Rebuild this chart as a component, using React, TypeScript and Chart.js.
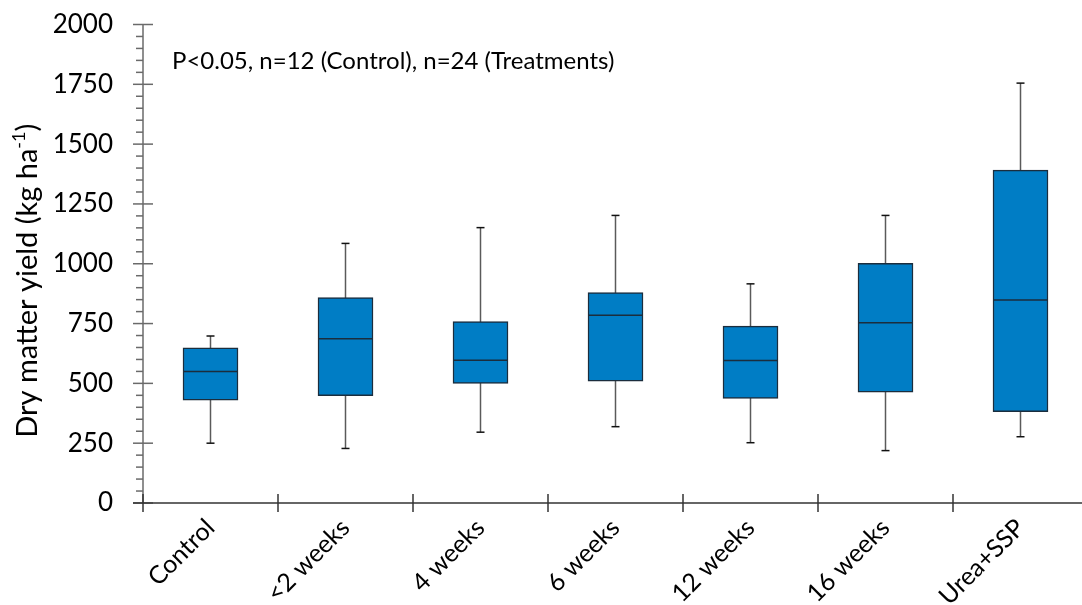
import React, { useEffect, useRef } from 'react';
import { Chart, registerables } from 'chart.js';

Chart.register(...registerables);

// ---- data ----
const categories = ['Control', '<2 weeks', '4 weeks', '6 weeks', '12 weeks', '16 weeks', 'Urea+SSP'];
const whiskerLow = [250, 228, 296, 319, 252, 219, 277];
const quartile1 = [430, 449, 500, 509, 437, 463, 382];
const medians = [550, 686, 597, 785, 596, 753, 849];
const quartile3 = [649, 859, 758, 880, 739, 1002, 1391];
const whiskerHigh = [698, 1085, 1151, 1202, 916, 1202, 1755];
const yMin = 0;
const yMax = 2000;
const yStep = 250;
const yMinorStep = 50;
const noteText = 'P<0.05, n=12 (Control), n=24 (Treatments)';
const yTitleMain = 'Dry matter yield (kg ha';
const yTitleSup = '-1';
const yTitleEnd = ')';

const FONT = 'Lato, "Open Sans", sans-serif';
const BOX_FILL = '#007DC5';
const BOX_EDGE = '#1b2d3d';
const WHISKER = '#5a5a5a';
const AXIS = '#333333';

const boxPlugin = {
  id: 'boxExtras',
  beforeDatasetsDraw(chart: any) {
    const { ctx, scales } = chart;
    const x = scales.x;
    const y = scales.y;
    ctx.save();
    ctx.strokeStyle = WHISKER;
    ctx.lineWidth = 1.5;
    categories.forEach((_, i) => {
      const px = x.getPixelForValue(i);
      ctx.beginPath();
      ctx.moveTo(px, y.getPixelForValue(whiskerHigh[i]));
      ctx.lineTo(px, y.getPixelForValue(whiskerLow[i]));
      ctx.stroke();
    });
    ctx.strokeStyle = '#111';
    categories.forEach((_, i) => {
      const px = x.getPixelForValue(i);
      [whiskerHigh[i], whiskerLow[i]].forEach((v) => {
        const py = y.getPixelForValue(v);
        ctx.beginPath();
        ctx.moveTo(px - 4, py);
        ctx.lineTo(px + 4, py);
        ctx.stroke();
      });
    });
    ctx.restore();
  },
  afterDatasetsDraw(chart: any) {
    const { ctx, scales } = chart;
    const y = scales.y;
    const meta = chart.getDatasetMeta(0);
    ctx.save();
    ctx.strokeStyle = BOX_EDGE;
    ctx.lineWidth = 1.5;
    meta.data.forEach((bar: any, i: number) => {
      const half = bar.width / 2;
      const py = y.getPixelForValue(medians[i]);
      ctx.beginPath();
      ctx.moveTo(bar.x - half, py);
      ctx.lineTo(bar.x + half, py);
      ctx.stroke();
    });
    ctx.restore();
  },
};

const axesPlugin = {
  id: 'axesDecor',
  afterDraw(chart: any) {
    const { ctx, scales, chartArea } = chart;
    const x = scales.x;
    const y = scales.y;
    const left = chartArea.left;
    const bottom = y.getPixelForValue(0);
    const top = y.getPixelForValue(yMax);
    ctx.save();
    // y axis line
    ctx.strokeStyle = '#6a6a6a';
    ctx.lineWidth = 1.5;
    ctx.beginPath();
    ctx.moveTo(left, top);
    ctx.lineTo(left, bottom);
    ctx.stroke();
    // y ticks
    for (let v = yMin; v <= yMax; v += yMinorStep) {
      const py = y.getPixelForValue(v);
      ctx.beginPath();
      if (v % yStep === 0) {
        ctx.moveTo(left - 10, py);
        ctx.lineTo(left + 10, py);
      } else {
        ctx.moveTo(left - 7, py);
        ctx.lineTo(left, py);
      }
      ctx.stroke();
    }
    // x axis line
    ctx.strokeStyle = AXIS;
    ctx.beginPath();
    ctx.moveTo(left - 10, bottom);
    ctx.lineTo(chart.width, bottom);
    ctx.stroke();
    // x ticks at category boundaries
    for (let i = 0; i <= categories.length; i++) {
      const px = x.getPixelForValue(i - 0.5);
      ctx.beginPath();
      ctx.moveTo(px, bottom - 9);
      ctx.lineTo(px, bottom + 9);
      ctx.stroke();
    }
    // note
    ctx.fillStyle = '#000';
    ctx.font = `24px ${FONT}`;
    ctx.textAlign = 'left';
    ctx.textBaseline = 'alphabetic';
    ctx.fillText(noteText, left + 29, top + 44);
    // y title with superscript
    const mainFont = `29px ${FONT}`;
    const supFont = `18px ${FONT}`;
    ctx.font = mainFont;
    const w1 = ctx.measureText(yTitleMain).width;
    const w3 = ctx.measureText(yTitleEnd).width;
    ctx.font = supFont;
    const w2 = ctx.measureText(yTitleSup).width;
    const total = w1 + w2 + w3;
    ctx.translate(37, (top + bottom) / 2 + 17);
    ctx.rotate(-Math.PI / 2);
    let cx = -total / 2;
    ctx.font = mainFont;
    ctx.fillText(yTitleMain, cx, 0);
    cx += w1;
    ctx.font = supFont;
    ctx.fillText(yTitleSup, cx, -12);
    cx += w2;
    ctx.font = mainFont;
    ctx.fillText(yTitleEnd, cx, 0);
    ctx.restore();
  },
};

export default function App() {
  const ref = useRef<HTMLCanvasElement | null>(null);
  useEffect(() => {
    if (!ref.current) return;
    const chart = new Chart(ref.current, {
      type: 'bar',
      data: {
        labels: categories,
        datasets: [
          {
            data: categories.map((_, i) => [quartile1[i], quartile3[i]]) as any,
            backgroundColor: BOX_FILL,
            borderColor: BOX_EDGE,
            borderWidth: 1.5,
            borderSkipped: false,
            barThickness: 55,
          },
        ],
      },
      options: {
        animation: false,
        responsive: false,
        devicePixelRatio: 1,
        layout: { padding: { top: 24.5, right: 12, bottom: 0, left: 0 } },
        plugins: { legend: { display: false }, tooltip: { enabled: false } },
        scales: {
          x: {
            type: 'category',
            offset: true,
            grid: { display: false, drawTicks: false },
            border: { display: false },
            ticks: {
              autoSkip: false,
              minRotation: 45,
              maxRotation: 45,
              padding: 10,
              color: '#000',
              font: { family: FONT, size: 25 },
            },
            afterFit: (s: any) => {
              s.height = 102;
              s.paddingLeft = 0;
              s.paddingRight = 0;
            },
          },
          y: {
            min: yMin,
            max: yMax,
            grid: { display: false, drawTicks: false },
            border: { display: false },
            ticks: {
              stepSize: yStep,
              padding: 30,
              color: '#000',
              font: { family: FONT, size: 26 },
              callback: (v: any) => String(v),
            },
            afterFit: (s: any) => {
              s.width = 143;
              s.paddingTop = 0;
              s.paddingBottom = 0;
            },
          },
        },
      },
      plugins: [boxPlugin, axesPlugin],
    });
    return () => chart.destroy();
  }, []);
  return (
    <div
      style={{
        position: 'fixed',
        left: 0,
        top: 0,
        width: 1082,
        height: 605,
        overflow: 'hidden',
        background: '#fff',
      }}
    >
      <canvas ref={ref} width={1100} height={605} style={{ display: 'block' }} />
    </div>
  );
}
